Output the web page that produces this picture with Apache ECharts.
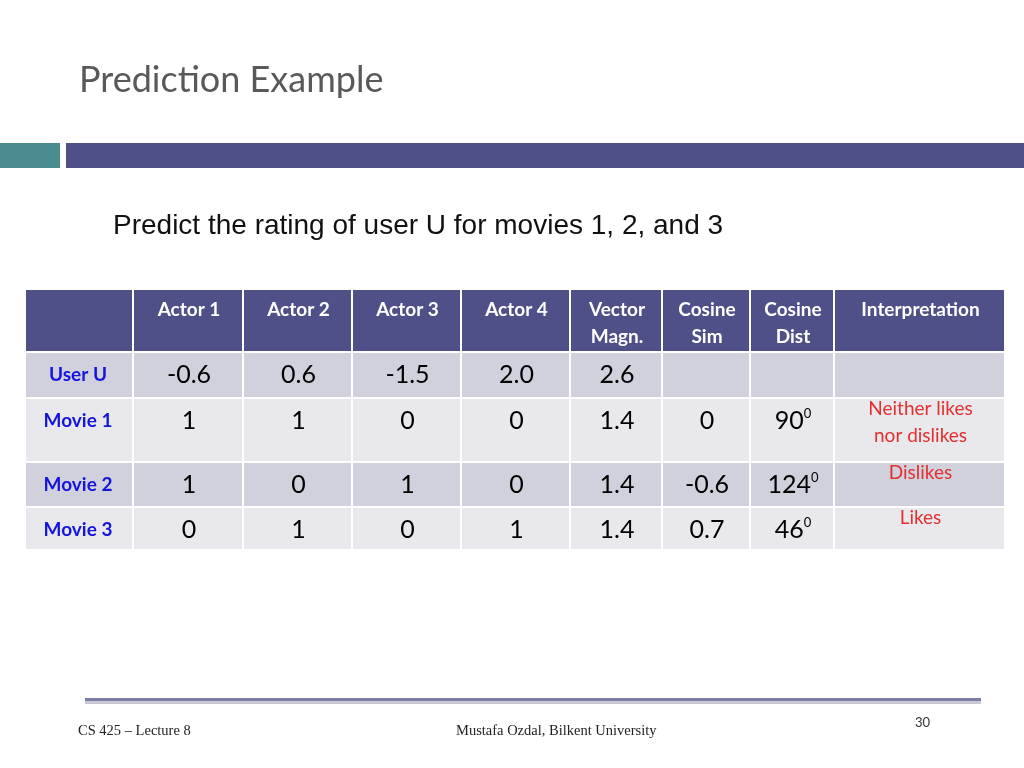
<!DOCTYPE html>
<html>
<head>
<meta charset="utf-8">
<script src="https://cdn.jsdelivr.net/npm/echarts@6/dist/echarts.min.js"></script>
<style>
  html, body { margin: 0; padding: 0; background: #fff; }
  #chart { width: 1024px; height: 768px; }
</style>
</head>
<body>
<div id="chart"></div>
<script>
// table content
const colHeaders = ["", "Actor 1", "Actor 2", "Actor 3", "Actor 4", "Vector\nMagn.", "Cosine\nSim", "Cosine\nDist", "Interpretation"];
const rowLabels = ["User U", "Movie 1", "Movie 2", "Movie 3"];
const actorValues = [
  ["-0.6", "0.6", "-1.5", "2.0"],
  ["1", "1", "0", "0"],
  ["1", "0", "1", "0"],
  ["0", "1", "0", "1"]
];
const vectorMagn = ["2.6", "1.4", "1.4", "1.4"];
const cosineSim = ["", "0", "-0.6", "0.7"];
const cosineDist = ["", "90", "124", "46"];
const interpretation = ["", "Neither likes\nnor dislikes", "Dislikes", "Likes"];

// table grid lines in slide units
const colEdges = [26, 134, 244, 353, 462, 571, 663, 751, 835, 1006];
const rowEdges = [290, 353, 399, 463, 508, 551];

const cells = [];
for (let c = 0; c < colHeaders.length; c++) cells.push([c, 0]);
for (let r = 0; r < rowLabels.length; r++) {
  for (let c = 0; c < colHeaders.length; c++) cells.push([c, r + 1]);
}

function cellText(c, r) {
  if (r === 0) return { text: colHeaders[c], kind: "head" };
  const i = r - 1;
  if (c === 0) return { text: rowLabels[i], kind: "label" };
  if (c <= 4) return { text: actorValues[i][c - 1], kind: "val" };
  if (c === 5) return { text: vectorMagn[i], kind: "val" };
  if (c === 6) return { text: cosineSim[i], kind: "val" };
  if (c === 7) return { text: cosineDist[i] ? cosineDist[i] + "{s|0}" : "", kind: "val" };
  return { text: interpretation[i], kind: "interp" };
}

const chart = echarts.init(document.getElementById("chart"));
const option = {
  animation: false,
  grid: { left: 0, right: 0, top: 0, bottom: 0 },
  xAxis: { type: "value", min: 0, max: 1024, show: false },
  yAxis: { type: "value", min: 0, max: 768, inverse: true, show: false },
  title: [
    { text: "Prediction Example", left: 79, top: 62, padding: 0,
      textStyle: { fontFamily: "Lato", fontSize: 36, fontWeight: "normal", color: "#595959" } },
    { text: "Predict the rating of user U for movies 1, 2, and 3", left: 113, top: 212, padding: 0,
      textStyle: { fontFamily: "Liberation Sans", fontSize: 28, fontWeight: "normal", color: "#111" } },
    { text: "CS 425 – Lecture 8", left: 78, top: 724, padding: 0,
      textStyle: { fontFamily: "Liberation Serif", fontSize: 14.5, fontWeight: "normal", color: "#222" } },
    { text: "Mustafa Ozdal, Bilkent University", left: 456, top: 724, padding: 0,
      textStyle: { fontFamily: "Liberation Serif", fontSize: 14.5, fontWeight: "normal", color: "#222" } },
    { text: "30", left: 915, top: 716, padding: 0,
      textStyle: { fontFamily: "Lato", fontSize: 13, fontWeight: "normal", color: "#333" } }
  ],
  graphic: [
    { type: "rect", shape: { x: 0, y: 143, width: 60, height: 25 }, style: { fill: "#4a8b8e" } },
    { type: "rect", shape: { x: 66, y: 143, width: 958, height: 25 }, style: { fill: "#4f5088" } },
    { type: "rect", shape: { x: 85, y: 701, width: 896, height: 3 }, style: { fill: "#c8c8d0" } },
    { type: "rect", shape: { x: 85, y: 698, width: 896, height: 3 }, style: { fill: "#7b7ca8" } }
  ],
  series: [{
    type: "custom",
    data: cells,
    renderItem: function (params, api) {
      const c = api.value(0), r = api.value(1);
      const p0 = api.coord([colEdges[c], rowEdges[r]]);
      const p1 = api.coord([colEdges[c + 1], rowEdges[r + 1]]);
      const w = p1[0] - p0[0], h = p1[1] - p0[1];
      let fill = "#4f5088";
      if (r > 0) fill = (r % 2 === 1) ? "#d0d1dc" : "#e8e8ed";
      const t = cellText(c, r);
      const style = {
        text: t.text, align: "center", verticalAlign: "top",
        x: p0[0] + w / 2, y: p0[1] + 8,
        fontFamily: "Lato", fontSize: 19, fill: "#000", lineHeight: 27,
        rich: { s: { fontSize: 13, verticalAlign: "top", lineHeight: 16, fontFamily: "Lato" } }
      };
      if (t.kind === "head") { style.fill = "#fff"; style.fontWeight = "bold"; style.y = p0[1] + 6; }
      if (t.kind === "label") { style.fill = "#1414dd"; style.fontWeight = "bold"; style.fontSize = 19; style.y = p0[1] + 8; style.x = p0[0] + w / 2 - 2; }
      if (t.kind === "val") { style.fontSize = 25; style.y = p0[1] + 8; }
      if (t.kind === "interp") { style.fill = "#e2312f"; style.fontSize = 19; style.y = p0[1] - 4; }
      return {
        type: "group",
        children: [
          { type: "rect", shape: { x: p0[0], y: p0[1], width: w - 2, height: h - 2 }, style: { fill: fill } },
          { type: "text", style: style }
        ]
      };
    }
  }]
};
chart.setOption(option);
window.onresize = function () { chart.resize(); };
</script>
</body>
</html>
